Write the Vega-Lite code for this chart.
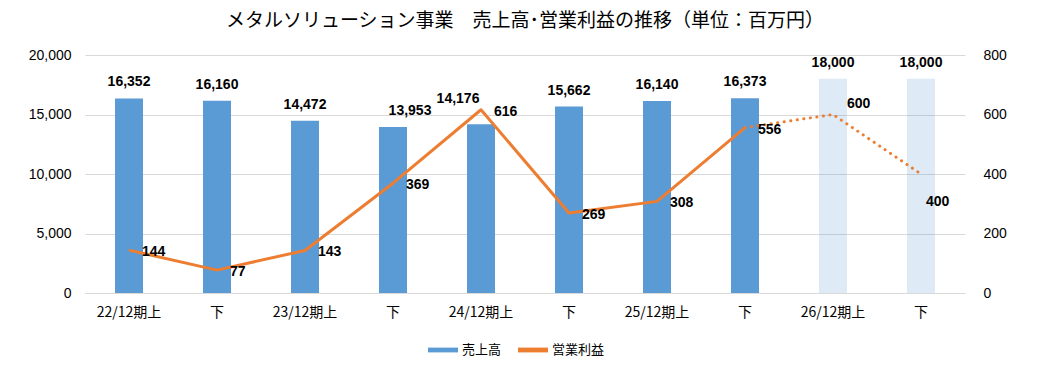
{
  "$schema": "https://vega.github.io/schema/vega-lite/v6.json",
  "width": 880,
  "height": 238,
  "autosize": {"type": "none"},
  "padding": {"left": 85, "top": 55, "right": 82, "bottom": 82},
  "background": "white",
  "title": {
    "text": "メタルソリューション事業　売上高･営業利益の推移（単位：百万円）",
    "font": "Noto Sans CJK JP",
    "fontSize": 19,
    "fontWeight": "normal",
    "color": "#000000",
    "anchor": "middle",
    "offset": 17
  },
  "data": {
    "values": [
      {"key": "22/12期上", "sales": 16352, "profit": 144, "plan": false},
      {"key": "22/12期下", "sales": 16160, "profit": 77, "plan": false},
      {"key": "23/12期上", "sales": 14472, "profit": 143, "plan": false},
      {"key": "23/12期下", "sales": 13953, "profit": 369, "plan": false},
      {"key": "24/12期上", "sales": 14176, "profit": 616, "plan": false},
      {"key": "24/12期下", "sales": 15662, "profit": 269, "plan": false},
      {"key": "25/12期上", "sales": 16140, "profit": 308, "plan": false},
      {"key": "25/12期下", "sales": 16373, "profit": 556, "plan": false},
      {"key": "26/12期上", "sales": 18000, "profit": 600, "plan": true},
      {"key": "26/12期下", "sales": 18000, "profit": 400, "plan": true}
    ]
  },
  "encoding": {
    "x": {
      "field": "key",
      "type": "ordinal",
      "sort": null,
      "scale": {"paddingInner": 0, "paddingOuter": 0},
      "axis": {
        "title": null,
        "labelAngle": 0,
        "labelExpr": "indexof(datum.value, '下') >= 0 ? '下' : datum.value",
        "labelFont": "Noto Sans CJK JP",
        "labelFontSize": 14,
        "labelColor": "#000000",
        "labelPadding": 12,
        "ticks": false,
        "domain": true,
        "domainColor": "#D9D9D9",
        "grid": false
      }
    }
  },
  "layer": [
    {
      "layer": [
        {
          "mark": {"type": "bar", "width": 28},
          "encoding": {
            "y": {
              "field": "sales",
              "type": "quantitative",
              "scale": {"domain": [0, 20000], "nice": false},
              "axis": {
                "title": null,
                "values": [0, 5000, 10000, 15000, 20000],
                "labelExpr": "format(datum.value, ',')",
                "labelFont": "Liberation Sans",
                "labelFontSize": 14,
                "labelColor": "#000000",
                "labelPadding": 14,
                "ticks": false,
                "domain": false,
                "grid": true,
                "gridColor": "#D9D9D9"
              }
            },
            "color": {
              "datum": "売上高",
              "type": "nominal",
              "scale": {"domain": ["売上高", "営業利益"], "range": ["#5B9BD5", "#ED7D31"]},
              "legend": {
                "title": null,
                "orient": "none",
                "legendX": 343,
                "legendY": 280,
                "direction": "horizontal",
                "symbolType": "M-1,-0.16H1V0.16H-1Z",
                "symbolSize": 900,
                "symbolStrokeWidth": 0,
                "labelFont": "Noto Sans CJK JP",
                "labelFontSize": 13,
                "labelColor": "#000000",
                "columnPadding": 16,
                "labelOffset": 4,
                "encode": {
                  "symbols": {"update": {"fill": {"scale": "color", "field": "value"}, "strokeWidth": {"value": 0}, "opacity": {"value": 1}}}
                }
              }
            },
            "opacity": {"condition": {"test": "datum.plan", "value": 0.2}, "value": 1}
          }
        },
        {
          "transform": [{"filter": "datum.key != '24/12期上' && datum.key != '23/12期下'"}],
          "mark": {"type": "text", "font": "Liberation Sans", "fontSize": 14, "fontWeight": "bold", "dy": -12, "baseline": "alphabetic", "color": "#000000"},
          "encoding": {
            "y": {"field": "sales", "type": "quantitative"},
            "text": {"field": "sales", "type": "quantitative", "format": ","}
          }
        },
        {
          "transform": [{"filter": "datum.key == '24/12期上'"}],
          "mark": {"type": "text", "font": "Liberation Sans", "fontSize": 14, "fontWeight": "bold", "dy": -21, "dx": -23, "baseline": "alphabetic", "color": "#000000"},
          "encoding": {
            "y": {"field": "sales", "type": "quantitative"},
            "text": {"field": "sales", "type": "quantitative", "format": ","}
          }
        },
        {
          "transform": [{"filter": "datum.key == '23/12期下'"}],
          "mark": {"type": "text", "font": "Liberation Sans", "fontSize": 14, "fontWeight": "bold", "dy": -12, "dx": 17, "baseline": "alphabetic", "color": "#000000"},
          "encoding": {
            "y": {"field": "sales", "type": "quantitative"},
            "text": {"field": "sales", "type": "quantitative", "format": ","}
          }
        }
      ]
    },
    {
      "layer": [
        {
          "transform": [{"filter": "!datum.plan"}],
          "mark": {"type": "line", "strokeWidth": 3, "strokeJoin": "round"},
          "encoding": {
            "y": {
              "field": "profit",
              "type": "quantitative",
              "scale": {"domain": [0, 800], "nice": false},
              "axis": {
                "orient": "right",
                "title": null,
                "values": [0, 200, 400, 600, 800],
                "labelFont": "Liberation Sans",
                "labelFontSize": 14,
                "labelColor": "#000000",
                "labelPadding": 18,
                "ticks": false,
                "domain": false,
                "grid": false
              }
            },
            "color": {"datum": "営業利益", "type": "nominal"}
          }
        },
        {
          "transform": [{"filter": "datum.plan || datum.key == '25/12期下'"}],
          "mark": {"type": "line", "strokeWidth": 3, "strokeDash": [0.1, 6.5], "strokeCap": "round"},
          "encoding": {
            "y": {"field": "profit", "type": "quantitative"},
            "color": {"datum": "営業利益", "type": "nominal"}
          }
        },
        {
          "transform": [{"filter": "!datum.plan"}],
          "mark": {"type": "text", "font": "Liberation Sans", "fontSize": 14, "fontWeight": "bold", "align": "left", "baseline": "middle", "dx": 13, "dy": 2, "color": "#000000"},
          "encoding": {
            "y": {"field": "profit", "type": "quantitative"},
            "text": {"field": "profit", "type": "quantitative"}
          }
        },
        {
          "transform": [{"filter": "datum.key == '26/12期上'"}],
          "mark": {"type": "text", "font": "Liberation Sans", "fontSize": 14, "fontWeight": "bold", "align": "left", "baseline": "middle", "dx": 14, "dy": -11, "color": "#000000"},
          "encoding": {
            "y": {"field": "profit", "type": "quantitative"},
            "text": {"field": "profit", "type": "quantitative"}
          }
        },
        {
          "transform": [{"filter": "datum.key == '26/12期下'"}],
          "mark": {"type": "text", "font": "Liberation Sans", "fontSize": 14, "fontWeight": "bold", "align": "left", "baseline": "middle", "dx": 5, "dy": 28, "color": "#000000"},
          "encoding": {
            "y": {"field": "profit", "type": "quantitative"},
            "text": {"field": "profit", "type": "quantitative"}
          }
        }
      ]
    }
  ],
  "resolve": {"scale": {"y": "independent"}},
  "config": {
    "view": {"stroke": null},
    "axis": {"labelFont": "Liberation Sans"}
  }
}
